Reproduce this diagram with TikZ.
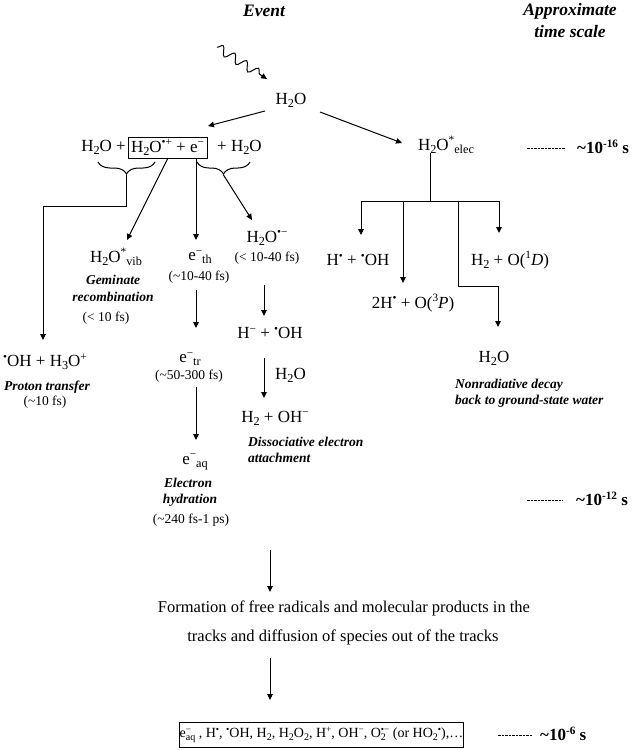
\documentclass[tikz,border=0pt]{standalone}
\usepackage{fontspec}
\setmainfont{Liberation Serif}
\usetikzlibrary{arrows.meta,decorations.pathmorphing,decorations.pathreplacing}
\newcommand{\sps}[1]{\raisebox{0.85ex}{\scalebox{0.66}{#1}}}
\newcommand{\sbs}[1]{\raisebox{-0.4ex}{\scalebox{0.72}{#1}}}
\begin{document}
\begin{tikzpicture}[x=1pt,y=1pt,
 txt/.style={inner sep=0pt, font=\fontsize{17}{20}\selectfont},
 big/.style={inner sep=0pt, font=\fontsize{16.5}{19}\selectfont},
 sm/.style={inner sep=0pt, font=\fontsize{13.5}{16}\selectfont},
 lbl/.style={inner sep=0pt, font=\fontsize{13.5}{16}\selectfont\bfseries\itshape},
 hdr/.style={inner sep=0pt, font=\fontsize{17.5}{21}\selectfont\bfseries\itshape},
 tm/.style={inner sep=0pt, anchor=west, font=\fontsize{17}{20}\selectfont\bfseries},
 arr/.style={line width=1pt, line join=miter, -{Triangle[length=6pt,width=5.5pt]}},
 ln/.style={line width=1pt},
 dsh/.style={line width=0.5pt, dash pattern=on 2.5pt off 1pt},
 brc/.style={line width=1pt, decorate, decoration={brace, mirror, amplitude=12pt}},
 wavy/.style={line width=1pt, decorate, decoration={snake, amplitude=4.5pt, segment length=14pt, post length=6pt}, -{Triangle[length=6pt,width=5.5pt]}}
]
\useasboundingbox (0,0) rectangle (637,-750);
\fill[white] (0,0) rectangle (637,-750);

% headers
\node[hdr] (event) at (264,-11) {Event};
\node[hdr] (approx) at (570,-11) {Approximate};
\node[hdr] (tscale) at (570,-32) {time scale};

% incoming radiation
\coordinate (w0) at (217,-47);
\coordinate (w1) at (267,-79);
\draw[wavy] (w0) -- (w1);

% first row
\node[txt] (h2o) at (291,-100) {H\sbs{2}O};
\node[txt, draw, line width=0.6pt, minimum width=79pt, minimum height=21pt] (ion) at (167.5,-147.5) {H\sbs{2}O\sps{•+} + e\sps{−}};
\node[txt, anchor=east] (lw) at (126,-147.5) {H\sbs{2}O +};
\node[txt, anchor=west] (rw) at (217,-147.5) {+ H\sbs{2}O};
\node[txt] (elec) at (446,-145) {H\sbs{2}O\sps{*}\sbs{elec}};

\coordinate (a1s) at (265,-111); \coordinate (a1e) at (208,-126);
\draw[arr] (a1s) -- (a1e);
\coordinate (a2s) at (320,-112); \coordinate (a2e) at (402,-143);
\draw[arr] (a2s) -- (a2e);

% time scales
\coordinate (d16a) at (527,-148); \coordinate (d16b) at (565,-148);
\draw[dsh] (d16a) -- (d16b);
\node[tm] (t16) at (577,-147) {\textasciitilde10\sps{-16} s};
\coordinate (d12a) at (527,-500); \coordinate (d12b) at (563,-500);
\draw[dsh] (d12a) -- (d12b);
\node[tm] (t12) at (576,-499) {\textasciitilde10\sps{-12} s};
\coordinate (d6a) at (498,-735); \coordinate (d6b) at (533,-735);
\draw[dsh] (d6a) -- (d6b);
\node[tm] (t6) at (540,-734) {\textasciitilde10\sps{-6} s};

% electronic excitation branches
\coordinate (e0) at (430,-153); \coordinate (e1) at (430,-201);
\draw[ln] (e0) -- (e1);
\coordinate (bl) at (361,-201); \coordinate (br) at (499,-201);
\draw[ln] (bl) -- (br);
\node[txt] (hoh) at (358,-260) {H\sps{•} + \sps{•}OH};
\node[txt] (h3p) at (413,-303) {2H\sps{•} + O(\sps{3}\textit{P})};
\node[txt] (h2od) at (510,-260) {H\sbs{2} + O(\sps{1}\textit{D})};
\node[txt] (wat) at (494,-358) {H\sbs{2}O};
\node[lbl, anchor=west] (nr1) at (455,-385) {Nonradiative decay};
\node[lbl, anchor=west] (nr2) at (455,-401) {back to ground-state water};
\coordinate (hohT) at (361,-235);
\draw[arr] (bl) -- (hohT);
\coordinate (m1) at (403,-201); \coordinate (h3pT) at (403,-283);
\draw[arr] (m1) -- (h3pT);
\coordinate (m2) at (458,-201); \coordinate (m2b) at (458,-286); \coordinate (m2c) at (498,-286); \coordinate (watT) at (498,-327);
\draw[arr] (m2) -- (m2b) -- (m2c) -- (watT);
\coordinate (h2odT) at (499,-233);
\draw[arr] (br) -- (h2odT);

% braces
\coordinate (b1a) at (98,-162); \coordinate (b1b) at (155,-162);
\draw[brc] (b1a) -- (b1b);
\coordinate (b1t) at (126.5,-175); \coordinate (p1) at (126.5,-206); \coordinate (p2) at (43,-206); \coordinate (p3) at (43,-340);
\draw[arr] (b1t) -- (p1) -- (p2) -- (p3);
\coordinate (b2a) at (197,-162); \coordinate (b2b) at (250,-162);
\draw[brc] (b2a) -- (b2b);
\coordinate (b2t) at (223.5,-175); \coordinate (h2omT) at (252,-220);
\draw[arr] (b2t) -- (h2omT);

% geminate recombination
\coordinate (v0) at (168,-158); \coordinate (vibT) at (127,-240);
\draw[arr] (v0) -- (vibT);
\node[txt] (vib) at (116,-257) {H\sbs{2}O\sps{*}\sbs{vib}};
\node[lbl] (gem1) at (113,-280) {Geminate};
\node[lbl] (gem2) at (113,-297) {recombination};
\node[sm] (gem3) at (106,-318) {(< 10 fs)};

% electron thermalization chain
\coordinate (t0) at (196,-158); \coordinate (ethT) at (196,-240);
\draw[arr] (t0) -- (ethT);
\node[txt] (eth) at (200,-257) {e\sps{−}\sbs{th}};
\node[sm] (etht) at (199,-277) {(\textasciitilde10-40 fs)};
\coordinate (t1) at (196,-290); \coordinate (etrT) at (196,-328);
\draw[arr] (t1) -- (etrT);
\node[txt] (etr) at (190,-359) {e\sps{−}\sbs{tr}};
\node[sm] (etrt) at (189,-376) {(\textasciitilde50-300 fs)};
\coordinate (t2) at (196,-387); \coordinate (eaqT) at (196,-440);
\draw[arr] (t2) -- (eaqT);
\node[txt] (eaq) at (195,-462) {e\sps{−}\sbs{aq}};
\node[lbl] (eh1) at (188,-483) {Electron};
\node[lbl] (eh2) at (190,-500) {hydration};
\node[sm] (eh3) at (191,-520) {(\textasciitilde240 fs-1 ps)};

% dissociative electron attachment
\node[txt] (h2om) at (267,-238) {H\sbs{2}O\sps{•−}};
\node[sm] (h2omt) at (267,-258) {(< 10-40 fs)};
\coordinate (s1) at (264,-285); \coordinate (hmohT) at (264,-316);
\draw[arr] (s1) -- (hmohT);
\node[txt] (hmoh) at (270,-333) {H\sps{−} + \sps{•}OH};
\coordinate (s2) at (264,-358); \coordinate (h2ohT) at (264,-398);
\draw[arr] (s2) -- (h2ohT);
\node[txt, anchor=west] (wl) at (275,-375) {H\sbs{2}O};
\node[txt] (h2oh) at (275,-418) {H\sbs{2} + OH\sps{−}};
\node[lbl, anchor=west] (de1) at (248,-442) {Dissociative electron};
\node[lbl, anchor=west] (de2) at (248,-458) {attachment};

% proton transfer
\node[txt] (ohh3o) at (45,-362) {\sps{•}OH + H\sbs{3}O\sps{+}};
\node[lbl] (pt1) at (47,-387) {Proton transfer};
\node[sm] (pt2) at (45,-402) {(\textasciitilde10 fs)};

% bottom
\coordinate (f0) at (270,-550); \coordinate (f0T) at (270,-592);
\draw[arr] (f0) -- (f0T);
\node[big] (f1) at (344,-608) {Formation of free radicals and molecular products in the};
\node[big] (f2) at (343,-637) {tracks and diffusion of species out of the tracks};
\coordinate (g0) at (270,-658); \coordinate (g0T) at (270,-700);
\draw[arr] (g0) -- (g0T);
\node[draw, line width=0.6pt, inner sep=0pt, minimum width=277pt, minimum height=25pt, font=\fontsize{14}{17}\selectfont] (prod) at (321.5,-734.5)
 {e\rlap{\sps{−}}\sbs{aq} , H\sps{•}, \sps{•}OH, H\sbs{2}, H\sbs{2}O\sbs{2}, H\sps{+}, OH\sps{−}, O\rlap{\sbs{2}}\sps{•−} (or HO\sbs{2}\sps{•}),…};
\end{tikzpicture}
\end{document}
